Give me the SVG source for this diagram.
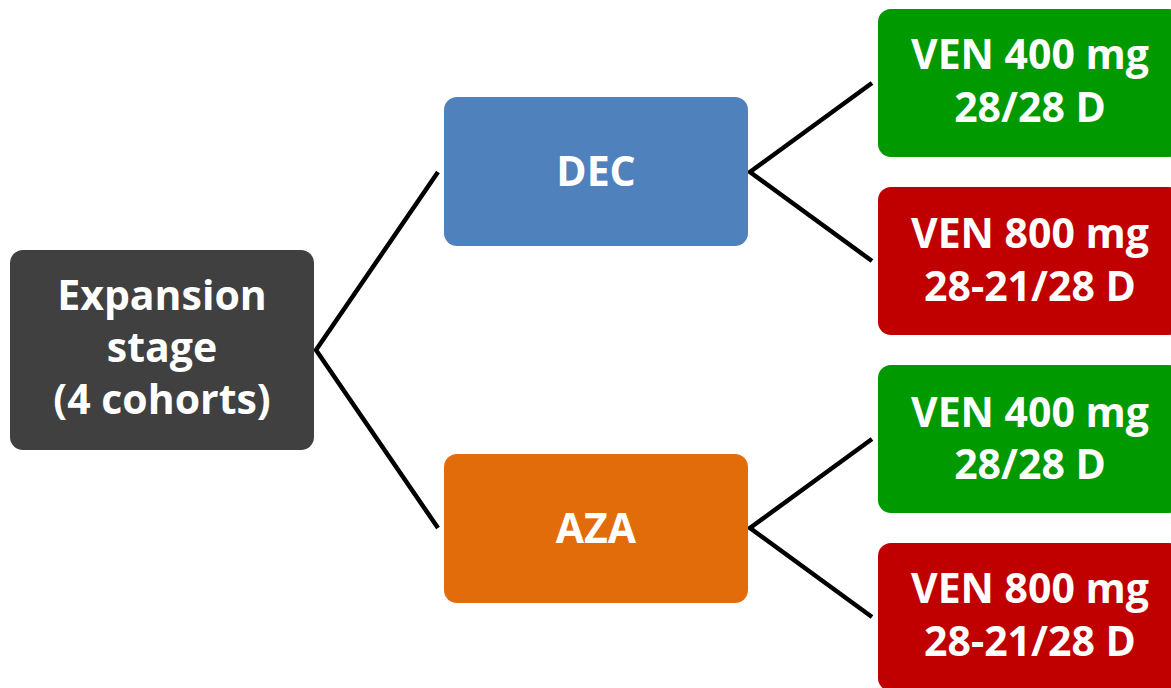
<svg xmlns="http://www.w3.org/2000/svg" width="1171" height="688" viewBox="0 0 1171 688">
  <style>
    .box { stroke: none; }
    .lbl { font-family: "Open Sans", "Liberation Sans", sans-serif; font-weight: 700; font-size: 41px; fill: #ffffff; text-anchor: middle; }
    .conn { stroke: #000000; stroke-width: 4.5; fill: none; stroke-linejoin: miter; }
  </style>
  <rect width="1171" height="688" fill="#ffffff"/>

  <!-- connectors -->
  <g id="connectors">
    <polyline class="conn" points="438,172 316,350 438,528"/>
    <polyline class="conn" points="872,83 750,172 872,261"/>
    <polyline class="conn" points="872,439 750,528 872,617"/>
  </g>

  <g id="root">
    <rect class="box" x="10" y="250" width="304" height="200" rx="13" fill="#404040"/>
    <text class="lbl" x="162" y="310">Expansion</text>
    <text class="lbl" x="162" y="362">stage</text>
    <text class="lbl" x="162" y="414">(4 cohorts)</text>
  </g>

  <g id="dec">
    <rect class="box" x="444" y="97" width="304" height="149" rx="13" fill="#4F81BD"/>
    <text class="lbl" x="596" y="186">DEC</text>
  </g>

  <g id="aza">
    <rect class="box" x="444" y="454" width="304" height="149" rx="13" fill="#E36C0A"/>
    <text class="lbl" x="596" y="543">AZA</text>
  </g>

  <g id="dec-ven400">
    <rect class="box" x="878" y="9" width="304" height="148" rx="13" fill="#009900"/>
    <text class="lbl" x="1030" y="69">VEN 400 mg</text>
    <text class="lbl" x="1030" y="122">28/28 D</text>
  </g>

  <g id="dec-ven800">
    <rect class="box" x="878" y="187" width="304" height="148" rx="13" fill="#C00000"/>
    <text class="lbl" x="1030" y="248">VEN 800 mg</text>
    <text class="lbl" x="1030" y="301">28-21/28 D</text>
  </g>

  <g id="aza-ven400">
    <rect class="box" x="878" y="365" width="304" height="148" rx="13" fill="#009900"/>
    <text class="lbl" x="1030" y="427">VEN 400 mg</text>
    <text class="lbl" x="1030" y="479">28/28 D</text>
  </g>

  <g id="aza-ven800">
    <rect class="box" x="878" y="543" width="304" height="148" rx="13" fill="#C00000"/>
    <text class="lbl" x="1030" y="603">VEN 800 mg</text>
    <text class="lbl" x="1030" y="656">28-21/28 D</text>
  </g>
</svg>
